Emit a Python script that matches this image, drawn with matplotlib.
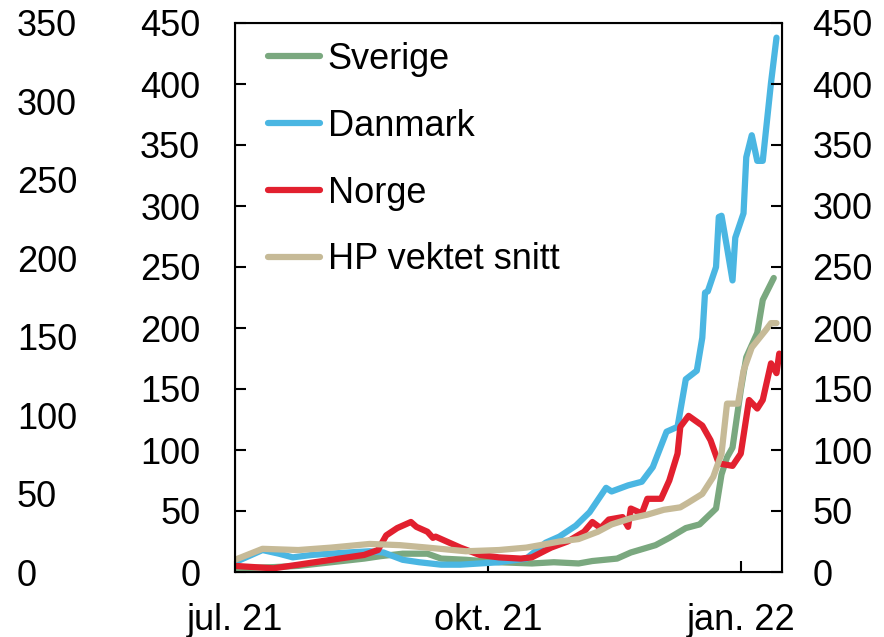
import matplotlib
matplotlib.use("Agg")
import matplotlib.pyplot as plt
import pandas as pd

plt.rcParams['font.family'] = ['Liberation Sans', 'DejaVu Sans']
plt.rcParams['font.size'] = 26

# Sverige
se_dates = ["2021-07-01", "2021-07-15", "2021-07-24", "2021-08-05", "2021-08-17", "2021-08-23",
            "2021-08-31", "2021-09-09", "2021-09-14", "2021-09-23", "2021-10-05", "2021-10-17",
            "2021-10-25", "2021-11-03", "2021-11-08", "2021-11-17", "2021-11-22", "2021-12-01",
            "2021-12-06", "2021-12-12", "2021-12-17", "2021-12-23", "2021-12-25", "2021-12-27",
            "2021-12-29", "2022-01-01", "2022-01-03", "2022-01-07", "2022-01-09", "2022-01-13"]
se_vals = [3, 4, 5, 8, 11, 13, 15, 15, 11, 10, 8, 7, 8, 7, 9, 11, 16, 22, 28, 36, 39, 52, 80, 94,
           102, 149, 176, 196, 223, 241]

# Danmark
dk_dates = ["2021-07-01", "2021-07-11", "2021-07-17", "2021-07-22", "2021-07-29", "2021-08-11",
            "2021-08-19", "2021-08-24", "2021-08-31", "2021-09-06", "2021-09-14", "2021-09-21",
            "2021-09-28", "2021-10-05", "2021-10-15", "2021-10-22", "2021-10-27", "2021-11-02",
            "2021-11-07", "2021-11-13", "2021-11-15", "2021-11-21", "2021-11-26", "2021-11-30",
            "2021-12-05", "2021-12-09", "2021-12-12", "2021-12-16", "2021-12-18", "2021-12-19",
            "2021-12-20", "2021-12-23", "2021-12-24", "2021-12-25", "2021-12-27", "2021-12-29",
            "2021-12-30", "2022-01-02", "2022-01-03", "2022-01-05", "2022-01-07", "2022-01-09",
            "2022-01-12", "2022-01-14"]
dk_vals = [8, 18, 15, 12, 14, 16, 17, 16, 10, 8, 6, 6, 7, 8, 11, 24, 29, 38, 49, 69, 66, 71, 74,
           86, 115, 119, 158, 165, 192, 229, 230, 250, 291, 292, 266, 239, 274, 294, 340, 358,
           337, 337, 401, 438]

# Norge
no_dates = ["2021-07-01", "2021-07-15", "2021-07-24", "2021-08-05", "2021-08-17", "2021-08-22",
            "2021-08-25", "2021-08-29", "2021-09-03", "2021-09-05", "2021-09-09", "2021-09-11",
            "2021-09-12", "2021-09-16", "2021-09-21", "2021-09-28", "2021-10-05", "2021-10-13",
            "2021-10-17", "2021-10-24", "2021-10-30", "2021-11-05", "2021-11-08", "2021-11-11",
            "2021-11-14", "2021-11-19", "2021-11-21", "2021-11-22", "2021-11-26", "2021-11-28",
            "2021-12-03", "2021-12-06", "2021-12-09", "2021-12-10", "2021-12-13", "2021-12-18",
            "2021-12-21", "2021-12-24", "2021-12-29", "2022-01-01", "2022-01-04", "2022-01-07",
            "2022-01-09", "2022-01-12", "2022-01-14", "2022-01-15"]
no_vals = [5, 3, 6, 10, 14, 18, 30, 36, 41, 37, 33, 28, 29, 25, 20, 14, 12, 11, 12, 20, 25, 33,
           41, 36, 43, 45, 37, 52, 48, 60, 60, 75, 97, 119, 128, 120, 108, 89, 87, 97, 141, 134,
           141, 171, 163, 179]

# HP vektet snitt
hp_dates = ["2021-07-01", "2021-07-11", "2021-07-24", "2021-08-05", "2021-08-19", "2021-08-30",
            "2021-09-09", "2021-09-23", "2021-10-05", "2021-10-15", "2021-10-20", "2021-10-27",
            "2021-11-03", "2021-11-10", "2021-11-15", "2021-11-22", "2021-11-28", "2021-12-04",
            "2021-12-10", "2021-12-13", "2021-12-18", "2021-12-22", "2021-12-25", "2021-12-27",
            "2021-12-31", "2022-01-02", "2022-01-05", "2022-01-10", "2022-01-12", "2022-01-14"]
hp_vals = [10, 19, 18, 20, 23, 22, 20, 17, 18, 20, 22, 25, 27, 33, 39, 44, 47, 51, 53, 57, 64,
           78, 97, 138, 138, 165, 184, 198, 204, 204]

labels = ["Sverige", "Danmark", "Norge", "HP vektet snitt"]
colors = ["#7aa87f", "#4ab6e2", "#e2202f", "#c6ba97"]
xtick_dates = ["2021-07-01", "2021-10-01", "2022-01-01"]
xtick_labels = ["jul. 21", "okt. 21", "jan. 22"]

fig = plt.figure(figsize=(8.84, 6.37), dpi=100)
ax = fig.add_axes([235 / 884, 1 - 572 / 637, (782 - 235) / 884, (572 - 23) / 637])

series = [(se_dates, se_vals), (dk_dates, dk_vals), (no_dates, no_vals), (hp_dates, hp_vals)]
for (d, v), lab, col in zip(series, labels, colors):
    ax.plot(pd.to_datetime(d), v, color=col, lw=4.5, label=lab, solid_capstyle='round')

ax.set_xlim(pd.Timestamp("2021-07-01"), pd.Timestamp("2022-01-16"))
ax.set_ylim(0, 450)
ax.set_yticks(range(0, 451, 50))
ax.set_xticks(pd.to_datetime(xtick_dates))
ax.set_xticklabels(xtick_labels)
ax.tick_params(axis='y', direction='in', length=8, width=1.5, pad=25)
ax.tick_params(axis='x', direction='in', length=8, width=1.5, pad=22)
for s in ax.spines.values():
    s.set_linewidth(1.5)

# høyre akse
ax2 = ax.twinx()
ax2.set_ylim(0, 450)
ax2.set_yticks(range(0, 451, 50))
ax2.tick_params(axis='y', direction='in', length=8, width=1.5, pad=22)

# ytterste venstre akse (0-350), venstrejustert
ax3 = ax.twinx()
ax3.set_ylim(0, 350)
ax3.set_yticks(range(0, 351, 50))
ax3.yaxis.tick_left()
ax3.tick_params(axis='y', length=0, pad=157)
for t in ax3.get_yticklabels():
    t.set_ha('left')
for s in ax3.spines.values():
    s.set_visible(False)

ax.legend(loc='upper left', bbox_to_anchor=(268 / 884, 1 - 42 / 637),
          bbox_transform=fig.transFigure, frameon=False, borderpad=0, borderaxespad=0,
          handlelength=1.45, handletextpad=0.2, labelspacing=0.88)

fig.savefig("out.png", dpi=100)
